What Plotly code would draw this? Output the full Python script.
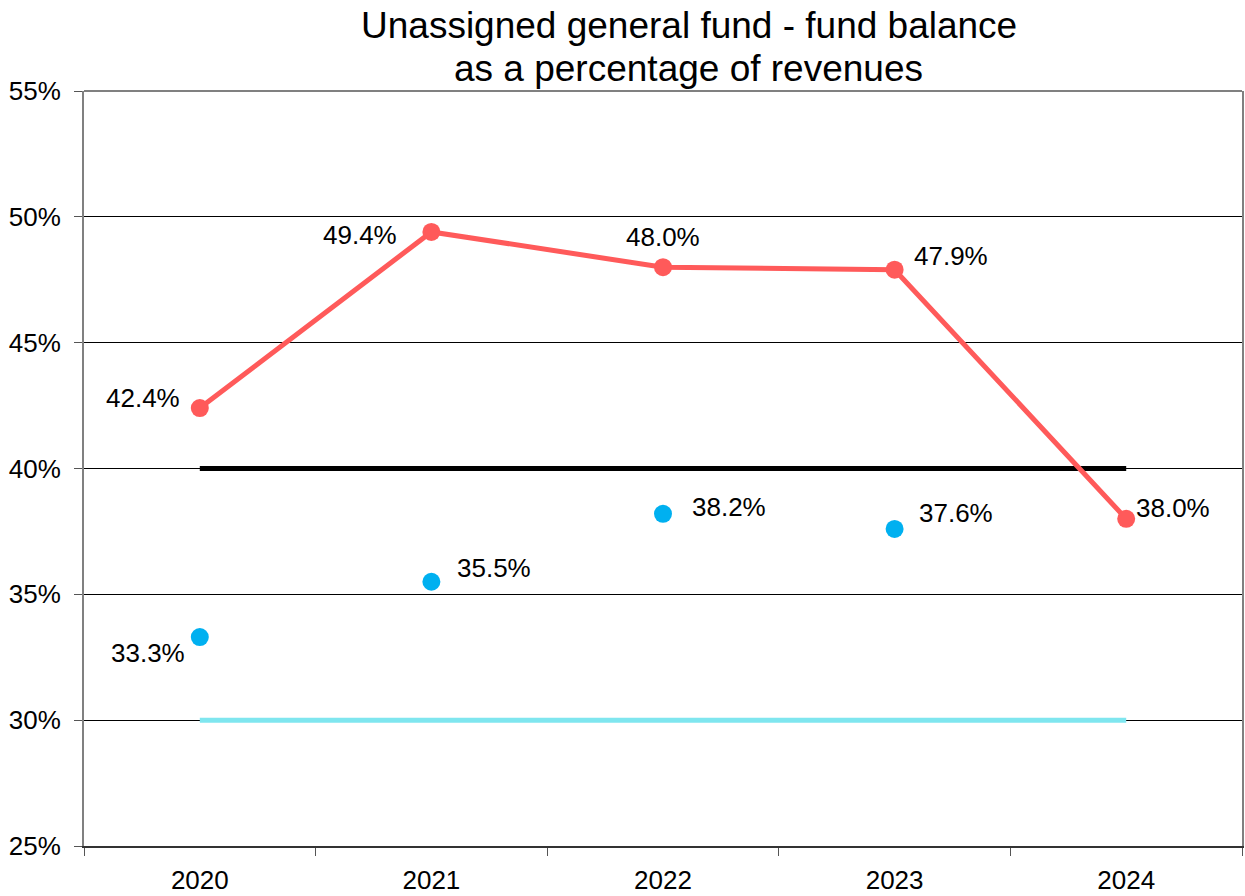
import plotly.graph_objects as go

years = ["2020", "2021", "2022", "2023", "2024"]
fund_pct = [0.424, 0.494, 0.480, 0.479, 0.380]
other_pct = [0.333, 0.355, 0.382, 0.376, None]
target_high = [0.40, 0.40, 0.40, 0.40, 0.40]
target_low = [0.30, 0.30, 0.30, 0.30, 0.30]
y_ticks = [0.25, 0.30, 0.35, 0.40, 0.45, 0.50, 0.55]
title_lines = ["Unassigned general fund - fund balance", "as a percentage of revenues"]

# label offsets in pixels (xshift, yshift)
fund_offsets = [(-57, 10), (-71, -3), (0, 30), (56, 14), (47, 11)]
other_offsets = [(-52, -16), (63, 14), (66, 7), (61, 16), (0, 0)]

FONT = "Liberation Sans, Arial, sans-serif"
RED = "#FF5A5A"
BLUE = "#00B0F0"
CYAN = "#7FE6EF"

fig = go.Figure()
fig.add_trace(go.Scatter(x=years, y=target_low, mode="lines",
                         line=dict(color=CYAN, width=5), hoverinfo="skip"))
fig.add_trace(go.Scatter(x=years, y=target_high, mode="lines",
                         line=dict(color="black", width=5), hoverinfo="skip"))
fig.add_trace(go.Scatter(x=years, y=other_pct, mode="markers",
                         marker=dict(color=BLUE, size=18)))
fig.add_trace(go.Scatter(x=years, y=fund_pct, mode="lines+markers",
                         line=dict(color=RED, width=5),
                         marker=dict(color=RED, size=18)))

for i, (v, (dx, dy)) in enumerate(zip(fund_pct, fund_offsets)):
    fig.add_annotation(x=i, y=v, xref="x", yref="y", text=f"{v*100:.1f}%",
                       showarrow=False, xshift=dx, yshift=dy,
                       font=dict(family=FONT, size=26, color="black"))
for i, (v, (dx, dy)) in enumerate(zip(other_pct, other_offsets)):
    if v is None:
        continue
    fig.add_annotation(x=i, y=v, xref="x", yref="y", text=f"{v*100:.1f}%",
                       showarrow=False, xshift=dx, yshift=dy,
                       font=dict(family=FONT, size=26, color="black"))

for line, shift in zip(title_lines, [66, 23]):
    fig.add_annotation(xref="paper", yref="paper", x=0.5224, y=1,
                       yanchor="middle", yshift=shift, showarrow=False,
                       text=line, font=dict(family=FONT, size=37, color="black"))

# top border
fig.add_shape(type="line", xref="paper", yref="paper", x0=0, x1=1, y0=1, y1=1,
              line=dict(color="#808080", width=2))

fig.update_layout(
    width=1245, height=896,
    margin=dict(l=84, r=1, t=91, b=49),
    paper_bgcolor="white", plot_bgcolor="white",
    showlegend=False,
    font=dict(family=FONT, size=26, color="black"),
)
fig.update_xaxes(
    type="category", range=[-0.5, 4.5],
    showgrid=False, zeroline=False,
    showline=True, linecolor="#333333", linewidth=2,
    ticks="outside", ticklen=8, tickcolor="#555555", tickwidth=1,
    tickson="boundaries", ticklabelstandoff=10,
    tickfont=dict(family=FONT, size=26, color="black"),
)
fig.update_yaxes(
    range=[0.25, 0.55], tickvals=y_ticks, tickformat=".0%",
    showgrid=True, gridcolor="black", gridwidth=1, zeroline=False,
    showline=True, linecolor="#808080", linewidth=2, mirror=True,
    ticks="outside", ticklen=8, tickcolor="#555555", tickwidth=1,
    ticklabelstandoff=8,
    tickfont=dict(family=FONT, size=26, color="black"),
)

fig.write_html("out.html")
